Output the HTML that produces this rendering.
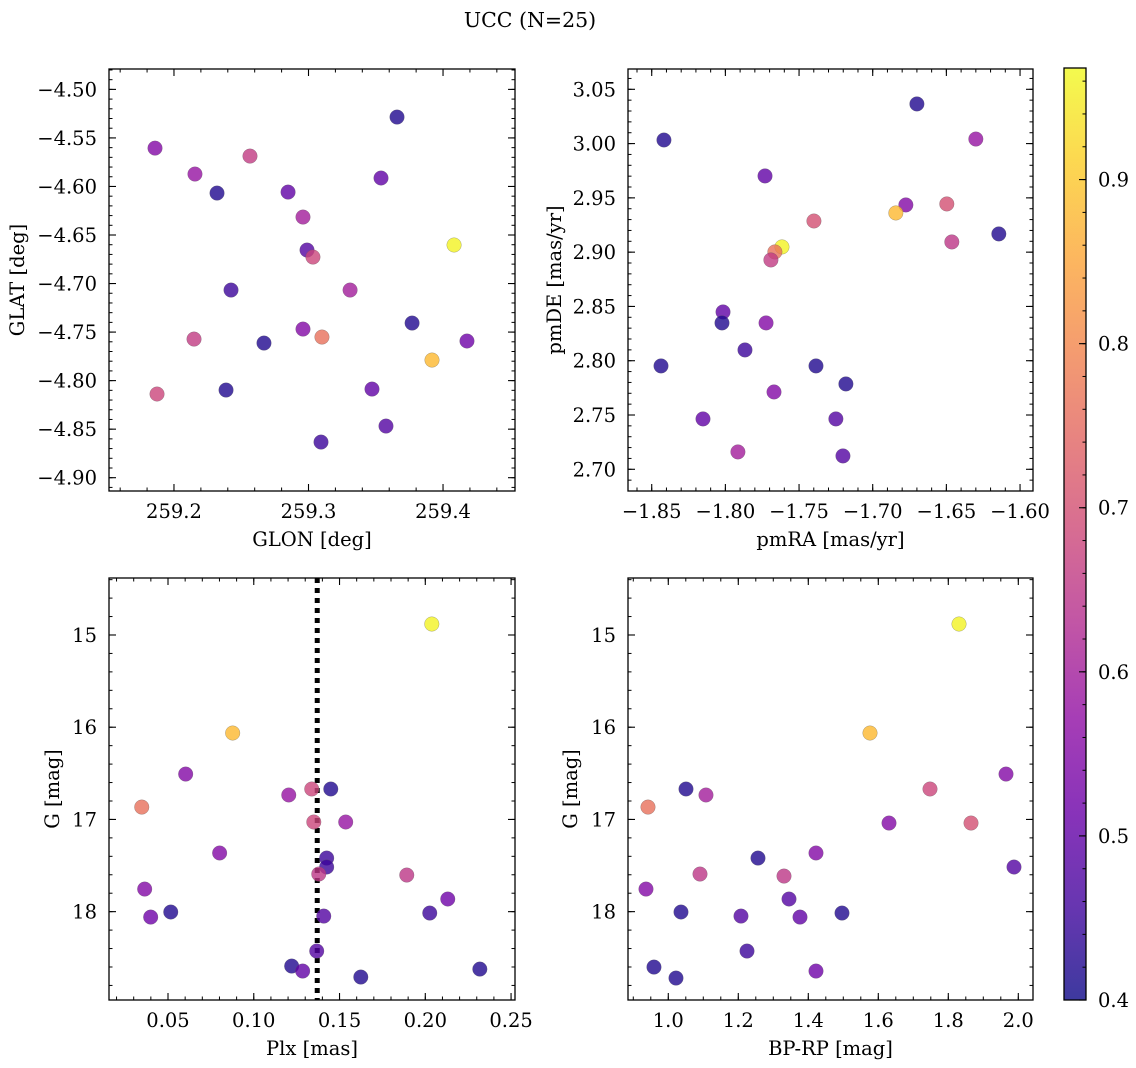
<!DOCTYPE html>
<html><head><meta charset="utf-8"><style>
html,body{margin:0;padding:0;background:#fff;}
svg{display:block;font-family:"DejaVu Serif","Liberation Serif",serif;}
</style></head><body>
<svg id="fig" width="1136" height="1068" viewBox="0 0 1136 1068" xmlns="http://www.w3.org/2000/svg">
<text x="530" y="27" font-size="20.5" text-anchor="middle">UCC (N=25)</text>
</svg>
<script>
// Panel 1: GLON vs GLAT
const p1Glon=[259.3658,259.1859,259.2565,259.2156,259.3539,259.2320,259.2848,259.2959,259.4082,259.2989,259.3033,259.2424,259.3309,259.3770,259.2959,259.3100,259.2149,259.2669,259.4178,259.3918,259.1874,259.2387,259.3472,259.3576,259.3093];
const p1Glat=[-4.5285,-4.5605,-4.5687,-4.5872,-4.5913,-4.6068,-4.6058,-4.6315,-4.6603,-4.6655,-4.6727,-4.7067,-4.7067,-4.7407,-4.7469,-4.7551,-4.7572,-4.7613,-4.7592,-4.7788,-4.8138,-4.8097,-4.8087,-4.8468,-4.8633];
const p1Prob=[0.42,0.55,0.66,0.58,0.50,0.42,0.50,0.60,0.96,0.48,0.68,0.45,0.60,0.42,0.55,0.76,0.66,0.42,0.52,0.88,0.68,0.42,0.50,0.48,0.45];
const p1XTicks=[259.2,259.3,259.4];
const p1YTicks=[-4.90,-4.85,-4.80,-4.75,-4.70,-4.65,-4.60,-4.55,-4.50];
// Panel 2: pmRA vs pmDE
const p2PmRA=[-1.8417,-1.6700,-1.6300,-1.7731,-1.6775,-1.6497,-1.6843,-1.7399,-1.7616,-1.7664,-1.7691,-1.6463,-1.6144,-1.8016,-1.8023,-1.7724,-1.7867,-1.8437,-1.7385,-1.7182,-1.7670,-1.8152,-1.7250,-1.7915,-1.7202];
const p2PmDE=[3.0033,3.0365,3.0042,2.9702,2.9435,2.9444,2.9361,2.9287,2.9048,2.9002,2.8928,2.9094,2.9168,2.8449,2.8348,2.8348,2.8099,2.7952,2.7952,2.7786,2.7712,2.7464,2.7464,2.7160,2.7123];
const p2Prob=[0.42,0.42,0.58,0.50,0.55,0.70,0.88,0.70,0.96,0.76,0.66,0.65,0.42,0.50,0.42,0.55,0.45,0.42,0.42,0.42,0.55,0.50,0.48,0.60,0.48];
const p2XTicks=[-1.85,-1.80,-1.75,-1.70,-1.65,-1.60];
const p2YTicks=[2.70,2.75,2.80,2.85,2.90,2.95,3.00,3.05];
// Panel 3: Plx vs G
const p3Plx=[0.2038,0.0877,0.0603,0.0347,0.1204,0.1338,0.1449,0.1350,0.1536,0.0801,0.1425,0.1425,0.1379,0.1892,0.0364,0.2131,0.0516,0.0399,0.1408,0.2026,0.1367,0.1221,0.1285,0.1624,0.2318];
const p3G=[14.881,16.063,16.508,16.866,16.735,16.670,16.670,17.028,17.028,17.364,17.419,17.516,17.592,17.603,17.755,17.863,18.004,18.059,18.048,18.015,18.427,18.590,18.644,18.709,18.623];
const p3Prob=[0.96,0.88,0.55,0.76,0.58,0.68,0.42,0.68,0.58,0.55,0.45,0.45,0.65,0.65,0.55,0.52,0.42,0.52,0.48,0.45,0.48,0.42,0.50,0.42,0.42];
const p3XTicks=[0.05,0.10,0.15,0.20,0.25];
const p3YTicks=[15,16,17,18];
const plxMedian=[0.137];
// Panel 4: BP-RP vs G
const p4BPRP=[1.8306,1.5763,1.9649,1.7477,1.0506,1.1077,0.9420,1.6306,1.8649,1.4220,1.2563,1.0906,1.3306,1.9877,0.9363,1.3449,1.0363,1.2077,1.3763,1.4963,1.2249,0.9591,1.0220,1.4220];
const p4G=[14.881,16.063,16.508,16.670,16.670,16.735,16.866,17.039,17.039,17.364,17.419,17.592,17.614,17.516,17.755,17.863,18.004,18.048,18.059,18.015,18.427,18.601,18.720,18.644];
const p4Prob=[0.96,0.88,0.55,0.68,0.42,0.60,0.76,0.55,0.70,0.55,0.42,0.65,0.65,0.48,0.55,0.48,0.42,0.48,0.50,0.42,0.45,0.42,0.42,0.52];
const p4XTicks=[1.0,1.2,1.4,1.6,1.8,2.0];
const p4YTicks=[15,16,17,18];
// Colorbar
const cbTicks=[0.4,0.5,0.6,0.7,0.8,0.9];
const cbRange=[0.4,0.968];

const NS="http://www.w3.org/2000/svg";
const svg=document.getElementById('fig');
const FS=19.5;
function mk(tag,attrs,parent){const e=document.createElementNS(NS,tag);for(const k in attrs)e.setAttribute(k,attrs[k]);(parent||svg).appendChild(e);return e;}
const plasma=[[13,8,135],[65,4,157],[106,0,168],[143,13,164],[177,42,144],[204,71,120],[225,100,98],[242,132,75],[252,166,54],[252,206,37],[240,249,33]];
function cmap(v){let t=(v-cbRange[0])/(cbRange[1]-cbRange[0]);t=Math.max(0,Math.min(1,t));const s=t*10,i=Math.min(9,Math.floor(s)),f=s-i;const a=plasma[i],b=plasma[i+1];return 'rgb('+a.map((c,k)=>Math.round(c+(b[k]-c)*f)).join(',')+')';}

function panel(o){
  const g=mk('g',{});
  
  
  const sx=v=>o.x0+(v-o.xd[0])/(o.xd[1]-o.xd[0])*(o.x1-o.x0);
  const sy=v=>o.inv? o.y0+(v-o.yd[0])/(o.yd[1]-o.yd[0])*(o.y1-o.y0) : o.y1-(v-o.yd[0])/(o.yd[1]-o.yd[0])*(o.y1-o.y0);
  const mg=mk('g',{stroke:'#000','stroke-width':1},g);
  
  
  for(let v=Math.ceil(o.xd[0]/o.xm-1e-6)*o.xm; v<=o.xd[1]+1e-9; v+=o.xm){const X=sx(v);if(X<o.x0+0.5||X>o.x1-0.5)continue;
    mk('line',{x1:X,x2:X,y1:o.y1,y2:o.y1-3.5},mg);mk('line',{x1:X,x2:X,y1:o.y0,y2:o.y0+3.5},mg);}
  const ylo=Math.min(o.yd[0],o.yd[1]),yhi=Math.max(o.yd[0],o.yd[1]);
  for(let v=Math.ceil(ylo/o.ym-1e-6)*o.ym; v<=yhi+1e-9; v+=o.ym){const Y=sy(v);if(Y<o.y0+0.5||Y>o.y1-0.5)continue;
    mk('line',{x1:o.x0,x2:o.x0+3.5,y1:Y,y2:Y},mg);mk('line',{x1:o.x1,x2:o.x1-3.5,y1:Y,y2:Y},mg);}
  o.xt.forEach(v=>{const X=sx(v);
    mk('line',{x1:X,x2:X,y1:o.y1,y2:o.y1-7,stroke:'#000','stroke-width':1.1},g);
    mk('line',{x1:X,x2:X,y1:o.y0,y2:o.y0+7,stroke:'#000','stroke-width':1.1},g);
    const t=mk('text',{x:X,y:o.y1+27,'font-size':FS,'text-anchor':'middle'},g);
    
    
    t.textContent=o.xf(v).replace('-','\u2212');});
  o.yt.forEach(v=>{const Y=sy(v);
    mk('line',{x1:o.x0,x2:o.x0+7,y1:Y,y2:Y,stroke:'#000','stroke-width':1.1},g);
    mk('line',{x1:o.x1,x2:o.x1-7,y1:Y,y2:Y,stroke:'#000','stroke-width':1.1},g);
    const t=mk('text',{x:o.x0-12,y:Y+7,'font-size':FS,'text-anchor':'end'},g);
    
    
    t.textContent=o.yf(v).replace('-','\u2212');});
  if(o.vline){o.vline.forEach(v=>{const l=mk('line',{x1:sx(v),x2:sx(v),y1:o.y0,y2:o.y1,stroke:'#000','stroke-width':5,'stroke-dasharray':'5,5'},g);
    
    });}
  o.xs.forEach((xv,i)=>{const c=mk('circle',{cx:sx(xv),cy:sy(o.ys[i]),r:7.3,fill:cmap(o.cs[i]),'fill-opacity':0.8,stroke:'rgba(90,90,90,0.5)','stroke-width':0.5},g);
    
    });
  const fr=mk('rect',{x:o.x0,y:o.y0,width:o.x1-o.x0,height:o.y1-o.y0,fill:'none',stroke:'#000','stroke-width':1.3},g);
  
  
  const xl=mk('text',{x:(o.x0+o.x1)/2,y:o.y1+55,'font-size':FS,'text-anchor':'middle'},g);
  
  
  xl.textContent=o.xlab;
  const yx=o.ylx, yy=(o.y0+o.y1)/2;
  const yl=mk('text',{x:yx,y:yy,'font-size':FS,'text-anchor':'middle',transform:'rotate(-90 '+yx+' '+yy+')'},g);
  
  
  yl.textContent=o.ylab;
}
const f2=v=>v.toFixed(2), f1=v=>v.toFixed(1), f0=v=>v.toFixed(0);
panel({name:'glon-glat-panel',x0:109,x1:515,y0:69,y1:491,xd:[259.1517,259.4535],yd:[-4.9137,-4.479],xm:0.02,ym:0.01,xt:p1XTicks,yt:p1YTicks,xf:f1,yf:f2,xs:p1Glon,ys:p1Glat,cs:p1Prob,xlab:'GLON [deg]',ylab:'GLAT [deg]',ylx:24});
panel({name:'pm-panel',x0:628,x1:1033,y0:69,y1:491,xd:[-1.8661,-1.5912],yd:[2.680,3.0687],xm:0.01,ym:0.01,xt:p2XTicks,yt:p2YTicks,xf:f2,yf:f2,xs:p2PmRA,ys:p2PmDE,cs:p2Prob,xlab:'pmRA [mas/yr]',ylab:'pmDE [mas/yr]',ylx:561});
panel({name:'plx-g-panel',x0:109,x1:515,y0:578,y1:1000,xd:[0.0156,0.2523],yd:[14.382,18.958],inv:true,xm:0.01,ym:0.2,xt:p3XTicks,yt:p3YTicks,xf:f2,yf:f0,xs:p3Plx,ys:p3G,cs:p3Prob,xlab:'Plx [mas]',ylab:'G [mag]',ylx:59,vline:plxMedian});
panel({name:'color-mag-panel',x0:628,x1:1033,y0:578,y1:1000,xd:[0.8849,2.042],yd:[14.382,18.958],inv:true,xm:0.05,ym:0.2,xt:p4XTicks,yt:p4YTicks,xf:f1,yf:f0,xs:p4BPRP,ys:p4G,cs:p4Prob,xlab:'BP-RP [mag]',ylab:'G [mag]',ylx:577});

const cb=mk('g',{});


const defs=mk('defs',{},cb);
const lg=mk('linearGradient',{id:'cbg',x1:0,y1:1,x2:0,y2:0},defs);
plasma.forEach((c,i)=>mk('stop',{offset:(i/10),'stop-color':'rgb('+c.join(',')+')'},lg));
const cbx0=1064,cbx1=1086,cby0=68,cby1=1000;
mk('rect',{x:cbx0,y:cby0,width:cbx1-cbx0,height:cby1-cby0,fill:'url(#cbg)','fill-opacity':0.8},cb);
const cy=v=>cby1-(v-cbRange[0])/(cbRange[1]-cbRange[0])*(cby1-cby0);
for(let v=0.42;v<cbRange[1];v+=0.02){mk('line',{x1:cbx1,x2:cbx1-3.5,y1:cy(v),y2:cy(v),stroke:'#000','stroke-width':1},cb);}
cbTicks.forEach(v=>{const Y=cy(v);
  mk('line',{x1:cbx1,x2:cbx1-7,y1:Y,y2:Y,stroke:'#000','stroke-width':1.1},cb);
  const t=mk('text',{x:cbx1+12,y:Y+7,'font-size':FS},cb);
  
  
  t.textContent=v.toFixed(1);});
mk('rect',{x:cbx0,y:cby0,width:cbx1-cbx0,height:cby1-cby0,fill:'none',stroke:'#000','stroke-width':1.3},cb);
</script>
</body></html>
